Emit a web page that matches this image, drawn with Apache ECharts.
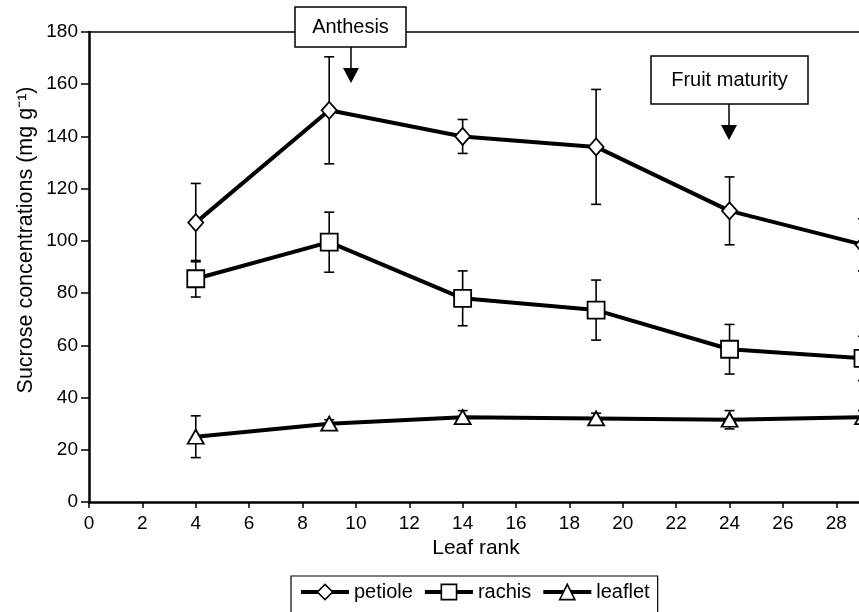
<!DOCTYPE html>
<html>
<head>
<meta charset="utf-8">
<script src="https://cdn.jsdelivr.net/npm/echarts@6/dist/echarts.min.js"></script>
<style>html,body{margin:0;padding:0;background:#fff;}#c{width:859px;height:612px;}</style>
</head>
<body>
<div id="c"></div>
<script>
var leafRank = [4, 9, 14, 19, 24, 29];
var petiole = [107, 150, 140, 136, 111.5, 98.5];
var petioleErr = [15, 20.5, 6.5, 22, 13, 10];
var rachis = [85.5, 99.5, 78, 73.5, 58.5, 55];
var rachisErr = [7, 11.5, 10.5, 11.5, 9.5, 8.5];
var leaflet = [25, 30, 32.5, 32, 31.5, 32.5];
var leafletErr = [8, 1.5, 2.5, 2, 3.5, 2.5];
var seriesNames = ['petiole', 'rachis', 'leaflet'];
var xTicks = [0, 2, 4, 6, 8, 10, 12, 14, 16, 18, 20, 22, 24, 26, 28];
var yTicks = [0, 20, 40, 60, 80, 100, 120, 140, 160, 180];
var xTitle = 'Leaf rank';
var yTitle = 'Sucrose concentrations (mg g\u207B\u00B9)';

var FONT = '"Liberation Sans", Arial, Helvetica, sans-serif';
var chart = echarts.init(document.getElementById('c'), null, {renderer: 'canvas'});

function pairs(vals) { return leafRank.map(function (x, i) { return [x, vals[i]]; }); }
function errData(vals, errs) { return leafRank.map(function (x, i) { return [x, vals[i] - errs[i], vals[i] + errs[i]]; }); }

function errSeries(vals, errs) {
  return {
    type: 'custom',
    z: 1,
    silent: true,
    clip: false,
    data: errData(vals, errs),
    renderItem: function (params, api) {
      var lo = api.coord([api.value(0), api.value(1)]);
      var hi = api.coord([api.value(0), api.value(2)]);
      var w = 5;
      var st = {stroke: '#000', lineWidth: 1.6};
      return {
        type: 'group',
        children: [
          {type: 'line', shape: {x1: lo[0], y1: lo[1], x2: hi[0], y2: hi[1]}, style: st},
          {type: 'line', shape: {x1: lo[0] - w, y1: lo[1], x2: lo[0] + w, y2: lo[1]}, style: st},
          {type: 'line', shape: {x1: hi[0] - w, y1: hi[1], x2: hi[0] + w, y2: hi[1]}, style: st}
        ]
      };
    }
  };
}

function lineSeries(name, vals, symbol, size) {
  return {
    name: name,
    type: 'line',
    z: 3,
    clip: false,
    data: pairs(vals),
    symbol: symbol,
    symbolSize: size,
    showAllSymbol: true,
    lineStyle: {color: '#000', width: 4},
    itemStyle: {color: '#fff', borderColor: '#000', borderWidth: 1.8},
    emphasis: {disabled: true},
    animation: false
  };
}

function annotation(x, y, w, h, text, ax) {
  return [
    {type: 'rect', z: 100, shape: {x: x, y: y, width: w, height: h}, style: {fill: '#fff', stroke: '#000', lineWidth: 1.5}},
    {type: 'text', z: 101, x: x + w / 2, y: y + h / 2, style: {text: text, fill: '#000', font: '20px ' + FONT, align: 'center', verticalAlign: 'middle'}},
    {type: 'line', z: 100, shape: {x1: ax, y1: y + h, x2: ax, y2: y + h + 22}, style: {stroke: '#000', lineWidth: 1.5}},
    {type: 'polygon', z: 100, shape: {points: [[ax - 8, y + h + 21], [ax + 8, y + h + 21], [ax, y + h + 36]]}, style: {fill: '#000'}}
  ];
}

var option = {
  backgroundColor: '#fff',
  animation: false,
  textStyle: {fontFamily: FONT},
  grid: {left: 89, top: 32, right: -4, bottom: 110, containLabel: false, outerBoundsMode: 'none'},
  legend: {
    data: seriesNames,
    left: 291,
    top: 576,
    padding: [6, 8, 20, 8],
    borderColor: '#000',
    borderWidth: 1.2,
    itemWidth: 48,
    itemHeight: 19,
    itemGap: 10,
    lineStyle: {width: 4, color: '#000'},
    itemStyle: {borderWidth: 1.6},
    textStyle: {fontSize: 20, color: '#000', fontFamily: FONT},
    selectedMode: false
  },
  xAxis: [{
    type: 'value',
    min: 0,
    max: 29,
    interval: 2,
    name: xTitle,
    nameLocation: 'middle',
    nameGap: 36,
    nameTextStyle: {fontSize: 21, color: '#000'},
    axisLine: {show: true, onZero: false, lineStyle: {color: '#000', width: 2.5}},
    axisTick: {show: true, length: 6, lineStyle: {color: '#000', width: 1.5}},
    axisLabel: {fontSize: 19, color: '#000', margin: 12, showMaxLabel: true,
      formatter: function (v) { return xTicks.indexOf(v) >= 0 ? String(v) : ''; }},
    splitLine: {show: false}
  }, {
    type: 'value',
    position: 'top',
    min: 0,
    max: 29,
    axisLine: {show: true, onZero: false, lineStyle: {color: '#000', width: 1.5}},
    axisTick: {show: false},
    axisLabel: {show: false},
    splitLine: {show: false}
  }],
  yAxis: {
    type: 'value',
    min: 0,
    max: 180,
    interval: 20,
    axisLine: {show: true, onZero: false, lineStyle: {color: '#000', width: 2.5}},
    axisTick: {show: true, length: 8, lineStyle: {color: '#000', width: 1.5}},
    axisLabel: {fontSize: 19, color: '#000', margin: 11,
      formatter: function (v) { return yTicks.indexOf(v) >= 0 ? String(v) : ''; }},
    splitLine: {show: false}
  },
  series: [
    errSeries(petiole, petioleErr),
    errSeries(rachis, rachisErr),
    errSeries(leaflet, leafletErr),
    lineSeries(seriesNames[0], petiole, 'diamond', [15, 17]),
    lineSeries(seriesNames[1], rachis, 'rect', 17),
    lineSeries(seriesNames[2], leaflet, 'triangle', [16, 14])
  ],
  graphic: annotation(295, 7, 111, 40, 'Anthesis', 351)
    .concat(annotation(651, 56, 157, 48, 'Fruit maturity', 729))
    .concat([{type: 'text', z: 50, x: 26, y: 240, rotation: Math.PI / 2,
      style: {text: yTitle, fill: '#000', font: '21.5px ' + FONT, align: 'center', verticalAlign: 'middle'}}])
};
chart.setOption(option);
</script>
</body>
</html>
